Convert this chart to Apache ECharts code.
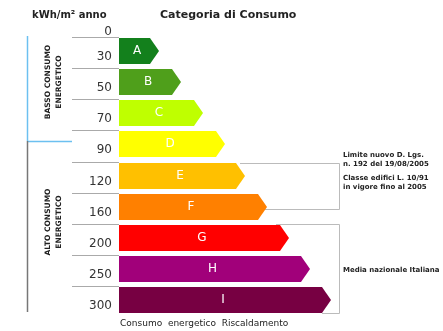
<!DOCTYPE html>
<html>
<head>
<meta charset="utf-8">
<script src="https://cdn.jsdelivr.net/npm/echarts@6/dist/echarts.min.js"></script>
<style>
html, body { margin: 0; padding: 0; background: #fff; }
#main { width: 443px; height: 331px; }
</style>
</head>
<body>
<div id="main"></div>
<script>
// classi energetiche
var classi = ['A', 'B', 'C', 'D', 'E', 'F', 'G', 'H', 'I'];
// lunghezza relativa delle frecce
var lunghezze = [40, 62, 84, 106, 126, 148, 170, 191, 212];
// limiti kWh/m2 anno
var limiti = ['0', '30', '50', '70', '90', '120', '160', '200', '250', '300'];
var colori = ['#13801c', '#4f9f1b', '#bfff00', '#ffff00', '#ffc000', '#ff8000', '#ff0000', '#a1007a', '#770042'];

var myChart = echarts.init(document.getElementById('main'));

var noteFont = 'bold 7px "DejaVu Sans"';

var option = {
    animation: false,
    grid: { left: 119, width: 212, top: 35, height: 281 },
    xAxis: { type: 'value', min: 0, max: 212, show: false },
    yAxis: { type: 'category', data: classi, inverse: true, show: false },
    graphic: [
        { type: 'text', x: 32, y: 15, style: { text: 'kWh/m² anno', font: 'bold 10px "DejaVu Sans"', fill: '#222', textVerticalAlign: 'middle' } },
        { type: 'text', x: 160, y: 15, style: { text: 'Categoria di Consumo', font: 'bold 11px "DejaVu Sans"', fill: '#222', textVerticalAlign: 'middle' } },
        { type: 'text', x: 120, y: 324, style: { text: 'Consumo  energetico  Riscaldamento', font: '9px "DejaVu Sans"', fill: '#222', textVerticalAlign: 'middle' } },
        // gruppi consumo
        { type: 'line', shape: { x1: 27.5, y1: 36, x2: 27.5, y2: 141 }, style: { stroke: '#6cc0f0', lineWidth: 1.5 } },
        { type: 'line', shape: { x1: 27, y1: 141.5, x2: 72, y2: 141.5 }, style: { stroke: '#6cc0f0', lineWidth: 1.5 } },
        { type: 'line', shape: { x1: 27.5, y1: 141, x2: 27.5, y2: 312 }, style: { stroke: '#777', lineWidth: 1.5 } },
        { type: 'text', x: 54, y: 82, rotation: Math.PI / 2, style: { text: 'BASSO CONSUMO\nENERGETICO', font: 'bold 7.5px "DejaVu Sans"', lineHeight: 11, fill: '#222', textAlign: 'center', textVerticalAlign: 'middle' } },
        { type: 'text', x: 54, y: 222, rotation: Math.PI / 2, style: { text: 'ALTO CONSUMO\nENERGETICO', font: 'bold 7.5px "DejaVu Sans"', lineHeight: 11, fill: '#222', textAlign: 'center', textVerticalAlign: 'middle' } },
        // riquadri note
        { type: 'polyline', z: 0, shape: { points: [[240, 163.5], [339.5, 163.5], [339.5, 209.5], [264, 209.5]] }, style: { stroke: '#bbb', lineWidth: 1, fill: null } },
        { type: 'polyline', z: 0, shape: { points: [[276, 224.5], [339.5, 224.5], [339.5, 313.5], [322, 313.5]] }, style: { stroke: '#bbb', lineWidth: 1, fill: null } },
        { type: 'text', x: 343, y: 151, style: { text: 'Limite nuovo D. Lgs.\nn. 192 del 19/08/2005', font: noteFont, lineHeight: 9, fill: '#222' } },
        { type: 'text', x: 343, y: 174, style: { text: 'Classe edifici L. 10/91\nin vigore fino al 2005', font: noteFont, lineHeight: 9, fill: '#222' } },
        { type: 'text', x: 343, y: 270, style: { text: 'Media nazionale Italiana', font: noteFont, fill: '#222', textVerticalAlign: 'middle' } }
    ],
    series: [
        {
            type: 'custom',
            data: lunghezze.map(function (v, i) { return [v, i]; }),
            renderItem: function (params, api) {
                var i = api.value(1);
                var end = api.coord([api.value(0), i]);
                var start = api.coord([0, i]);
                var band = api.size([0, 1])[1];
                var h = Math.round(band * 0.83);
                var top = Math.round(end[1] - h / 2);
                var bot = top + h;
                var mid = (top + bot) / 2;
                var x0 = start[0], x1 = end[0], punta = 9;
                var children = [
                    {
                        type: 'polygon',
                        shape: { points: [[x0, top], [x1 - punta, top], [x1, mid], [x1 - punta, bot], [x0, bot]] },
                        style: { fill: colori[i] }
                    },
                    {
                        type: 'text',
                        x: (x0 + x1) / 2 - 2, y: mid,
                        style: { text: classi[i], font: '12px "DejaVu Sans"', fill: '#fff', textAlign: 'center', textVerticalAlign: 'middle' }
                    },
                    {
                        type: 'line',
                        shape: { x1: 72, y1: top - 0.5, x2: x0, y2: top - 0.5 },
                        style: { stroke: '#aaa', lineWidth: 1 }
                    },
                    {
                        type: 'text',
                        x: 112, y: mid + 6,
                        style: { text: limiti[i + 1], font: '12px "DejaVu Sans"', fill: '#333', textAlign: 'right', textVerticalAlign: 'middle' }
                    }
                ];
                if (i === 0) {
                    children.push({
                        type: 'text',
                        x: 112, y: top - 6,
                        style: { text: limiti[0], font: '12px "DejaVu Sans"', fill: '#333', textAlign: 'right', textVerticalAlign: 'middle' }
                    });
                }
                return { type: 'group', children: children };
            }
        }
    ]
};
myChart.setOption(option);
</script>
</body>
</html>
